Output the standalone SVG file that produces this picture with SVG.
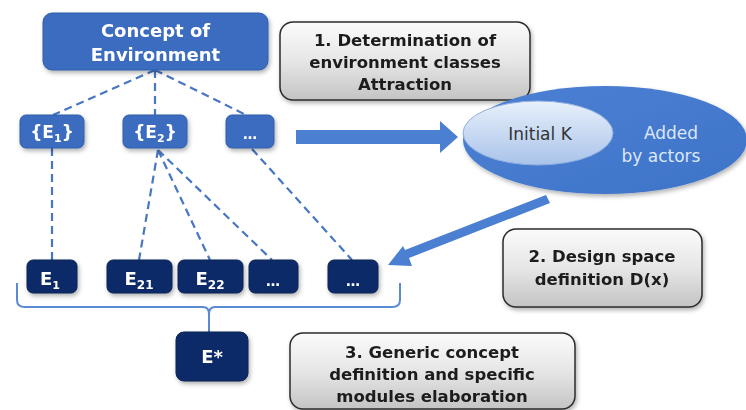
<svg xmlns="http://www.w3.org/2000/svg" width="746" height="410" viewBox="0 0 746 410">
<defs>
<linearGradient id="gray" x1="0" y1="0" x2="0" y2="1">
<stop offset="0" stop-color="#fbfbfb"/><stop offset="0.5" stop-color="#e6e6e6"/><stop offset="1" stop-color="#c4c4c4"/>
</linearGradient>
<linearGradient id="inner" x1="0" y1="0" x2="0" y2="1">
<stop offset="0" stop-color="#e8f0fb"/><stop offset="1" stop-color="#a9c3ea"/>
</linearGradient>
<linearGradient id="big" x1="0" y1="0" x2="1" y2="1">
<stop offset="0" stop-color="#4b80d4"/><stop offset="1" stop-color="#3f74c8"/>
</linearGradient>
<filter id="sh" x="-10%" y="-10%" width="130%" height="140%">
<feDropShadow dx="1.5" dy="2.5" stdDeviation="2" flood-color="#000" flood-opacity="0.3"/>
</filter>
</defs>
<style>
.mid{fill:#3a6cc0;stroke:#2f5ea8;stroke-width:1}
.dark{fill:#0d2c68;stroke:#0a2250;stroke-width:1}
.gbox{fill:url(#gray);stroke:#2b2b2b;stroke-width:1.5}
.wt{font-family:"DejaVu Sans",sans-serif;font-weight:bold;fill:#fff;text-anchor:middle}
.bt{font-family:"DejaVu Sans",sans-serif;font-weight:bold;fill:#1c1c1c;text-anchor:middle;font-size:16.5px}
.dash{stroke:#4776c2;stroke-width:2.2;stroke-dasharray:8 5;fill:none}
.arr{fill:#4a7fd2}
.lt{font-family:"DejaVu Sans",sans-serif;font-size:17px;text-anchor:middle}
</style>
<rect width="746" height="410" fill="#fff"/>

<g id="connectors">
<path class="dash" d="M155 70 L53 115 M155 70 L155 115 M155 70 L246 115"/>
<path class="dash" d="M52 148 L52 260 M158 150 L139 260 M158 150 L210 260 M158 150 L272 260 M252 149 L352 260"/>
<path d="M17 283 L17 300 Q17 307 25 307 L203 307 Q209 307 209 314 L209 332 M209 314 Q209 307 215 307 L392 307 Q400 307 400 300 L400 283" fill="none" stroke="#5a8ad2" stroke-width="2"/>
<polygon class="arr" points="296,130 440,130 440,121 458,137 440,153 440,144 296,144"/>
<polygon class="arr" points="550,203 409,258 412,266 388,265 403,246 405,250 546,195"/>
</g>

<g id="concept" filter="url(#sh)">
<rect class="mid" x="43" y="13" width="225" height="57" rx="9"/>
<text class="wt" font-size="18" x="155.5" y="37">Concept of</text>
<text class="wt" font-size="18" x="155.5" y="61">Environment</text>
</g>

<g id="step1" filter="url(#sh)">
<rect class="gbox" x="280" y="22" width="250" height="78" rx="13"/>
<text class="bt" x="405" y="46">1. Determination of</text>
<text class="bt" x="405" y="68">environment classes</text>
<text class="bt" x="405" y="90">Attraction</text>
</g>

<g id="E1set" filter="url(#sh)">
<rect class="mid" x="20" y="115" width="64" height="33" rx="6"/>
<text class="wt" font-size="17" x="52" y="138">{E<tspan font-size="11" dy="4">1</tspan><tspan dy="-4">}</tspan></text>
</g>
<g id="E2set" filter="url(#sh)">
<rect class="mid" x="123" y="115" width="64" height="33" rx="6"/>
<text class="wt" font-size="17" x="155" y="138">{E<tspan font-size="11" dy="4">2</tspan><tspan dy="-4">}</tspan></text>
</g>
<g id="moreSet" filter="url(#sh)">
<rect class="mid" x="226" y="115" width="48" height="33" rx="6"/>
<text class="wt" font-size="14" x="250" y="139">…</text>
</g>

<g id="knowledge">
<ellipse cx="605" cy="140" rx="142" ry="54" fill="url(#big)" filter="url(#sh)"/>
<ellipse cx="538" cy="133" rx="75" ry="32" fill="url(#inner)" stroke="#8fb0e0" stroke-width="1"/>
<text class="lt" x="540" y="140" fill="#333">Initial K</text>
<text class="lt" x="671" y="139" fill="#dce7f8" font-size="18">Added</text>
<text class="lt" x="661" y="162" fill="#dce7f8" font-size="18">by actors</text>
</g>

<g id="step2" filter="url(#sh)">
<rect class="gbox" x="503" y="229" width="199" height="78" rx="13"/>
<text class="bt" x="602" y="262">2. Design space</text>
<text class="bt" x="602" y="285">definition D(x)</text>
</g>

<g id="E1" filter="url(#sh)">
<rect class="dark" x="27" y="260" width="50" height="33" rx="6"/>
<text class="wt" font-size="18" x="50" y="285">E<tspan font-size="11" dy="4">1</tspan></text>
</g>
<g id="E21" filter="url(#sh)">
<rect class="dark" x="107" y="260" width="65" height="33" rx="6"/>
<text class="wt" font-size="18" x="139" y="285">E<tspan font-size="12" dy="4">21</tspan></text>
</g>
<g id="E22" filter="url(#sh)">
<rect class="dark" x="178" y="260" width="65" height="33" rx="6"/>
<text class="wt" font-size="18" x="210" y="285">E<tspan font-size="12" dy="4">22</tspan></text>
</g>
<g id="Emore1" filter="url(#sh)">
<rect class="dark" x="249" y="260" width="49" height="33" rx="6"/>
<text class="wt" font-size="14" x="273" y="286">…</text>
</g>
<g id="Emore2" filter="url(#sh)">
<rect class="dark" x="328" y="260" width="50" height="33" rx="6"/>
<text class="wt" font-size="14" x="353" y="286">…</text>
</g>

<g id="Estar" filter="url(#sh)">
<rect class="dark" x="176" y="332" width="72" height="49" rx="8"/>
<text class="wt" font-size="18" x="212" y="363">E*</text>
</g>

<g id="step3" filter="url(#sh)">
<rect class="gbox" x="290" y="333" width="285" height="76" rx="13"/>
<text class="bt" x="432" y="358">3. Generic concept</text>
<text class="bt" x="432" y="380">definition and specific</text>
<text class="bt" x="432" y="402">modules elaboration</text>
</g>
</svg>
